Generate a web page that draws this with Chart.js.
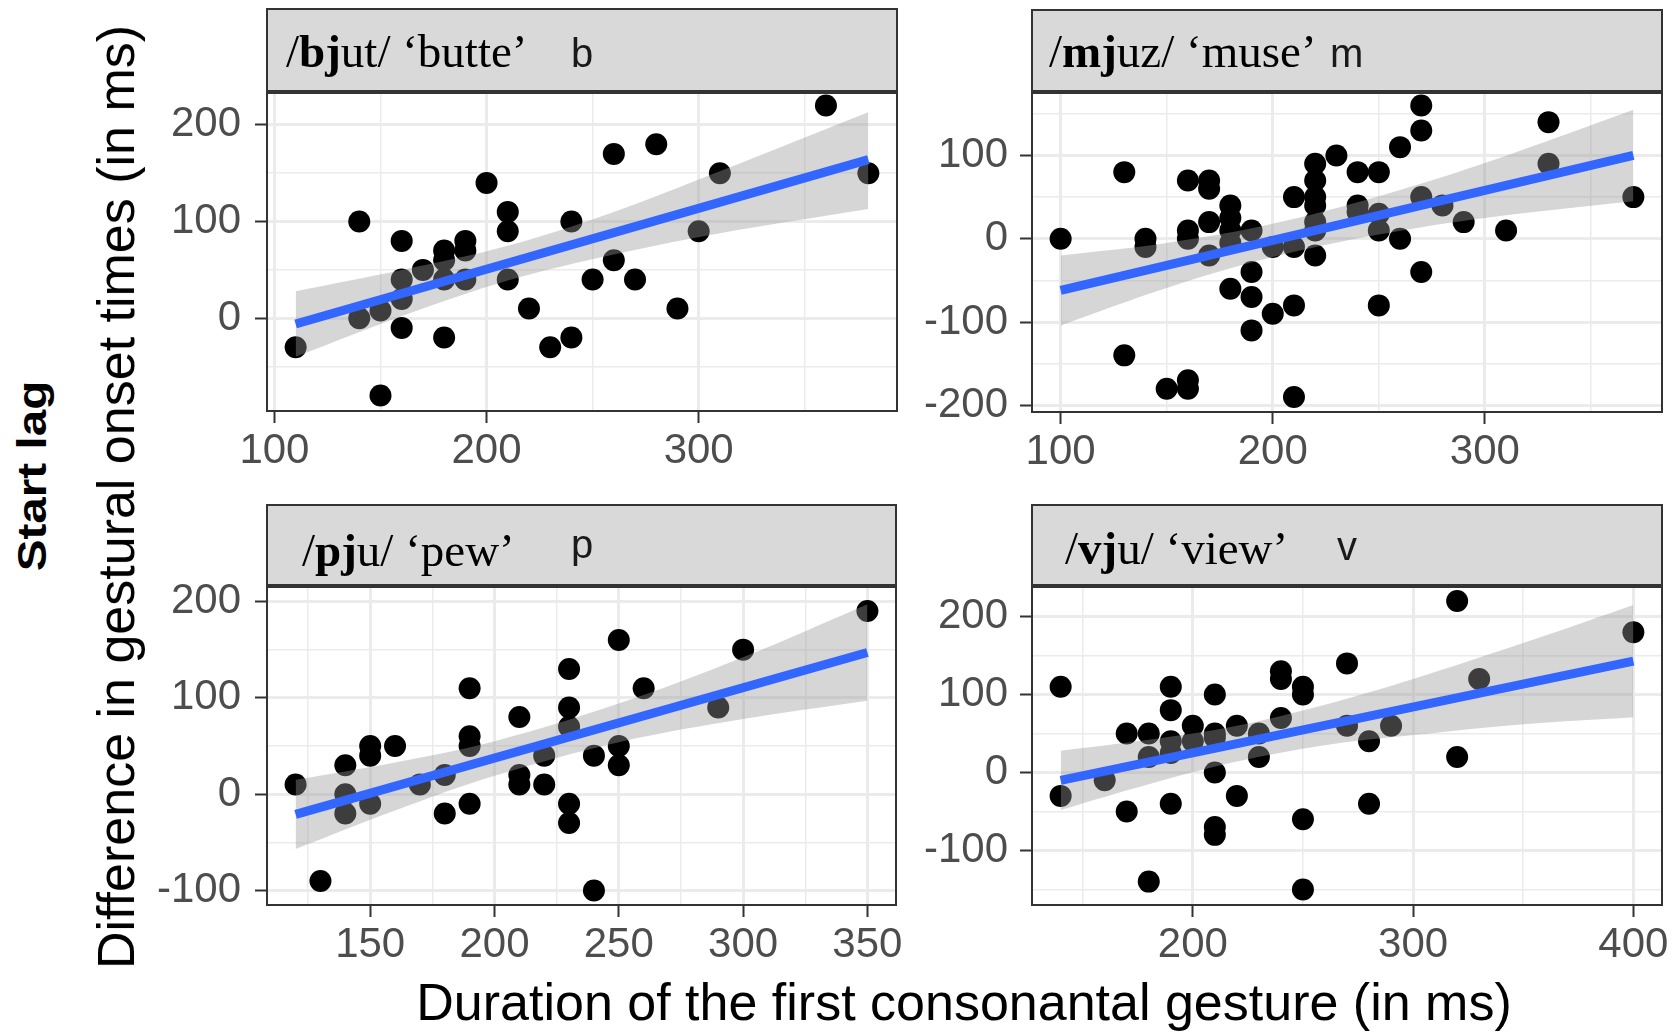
<!DOCTYPE html>
<html lang="en">
<head>
    <meta charset="UTF-8">
    <title>Start lag</title>
    <style>
        body {
            margin: 0;
            width: 1674px;
            height: 1032px;
            position: relative;
            overflow: hidden;
            background: #fff;
            font-family: "Liberation Sans", Arial, sans-serif;
        }
        canvas {
            position: absolute;
        }
        .ytitle {
            position: absolute;
            transform: translate(-50%, -50%) rotate(-90deg);
            line-height: 1;
            white-space: nowrap;
            color: #000;
            z-index: 2;
        }
        #startlag {
            transform: translate(-50%, -50%) rotate(-90deg) scaleX(1.19);
        }
        #xtitle {
            position: absolute;
            left: 964px;
            top: 976px;
            transform: translateX(-50%);
            font-size: 52px;
            line-height: 52px;
            white-space: nowrap;
            color: #000;
            z-index: 2;
        }
    </style>
    <script src="https://cdn.jsdelivr.net/npm/chart.js"></script>
</head>
<body>
    <canvas id="p1"></canvas>
    <canvas id="p2"></canvas>
    <canvas id="p3"></canvas>
    <canvas id="p4"></canvas>
    <div class="ytitle" style="left:116px; top:497px; font-size:52px;">Difference in gestural onset times (in ms)</div>
    <div class="ytitle" id="startlag" style="left:32px; top:476px; font-size:40px; font-weight:bold;">Start lag</div>
    <div id="xtitle">Duration of the first consonantal gesture (in ms)</div>

<script>
// strip labels
const wordOnsets = ['bj', 'mj', 'pj', 'vj'];
const wordRimes = ['ut', 'uz', 'u', 'u'];
const glosses = ['butte', 'muse', 'pew', 'view'];
const letters = ['b', 'm', 'p', 'v'];

// /bjut/ 'butte'
const bjutX = [110, 140, 140, 150, 150, 160, 160, 160, 160, 170, 180, 180, 180, 180, 190, 190, 190, 200, 210, 210, 210, 220, 230, 240, 240, 250, 260, 260, 270, 280, 290, 300, 310, 360, 380];
const bjutY = [-30, 100, 0, 8, -80, 80, 40, 20, -10, 50, 70, 60, 40, -20, 80, 70, 40, 140, 110, 90, 40, 10, -30, 100, -20, 40, 170, 60, 40, 180, 10, 90, 150, 220, 150];
const bjutFitX = [110, 380];
const bjutFitY = [-6, 164];
const bjutBandX = [110, 160, 210, 260, 310, 380];
const bjutBandLow = [-40, 2, 39, 66, 88, 113];
const bjutBandHigh = [28, 50, 75, 110, 152, 213];
const bjutXRange = [96.5, 393.5];
const bjutYRange = [-96, 233];
const bjutXTicks = [100, 200, 300];
const bjutXMinor = [150, 250, 350];
const bjutYTicks = [0, 100, 200];
const bjutYMinor = [-50, 50, 150];

// /mjuz/ 'muse'
const mjuzX = [100, 130, 130, 140, 140, 150, 160, 160, 160, 160, 160, 170, 170, 170, 170, 180, 180, 180, 180, 180, 190, 190, 190, 190, 200, 200, 210, 210, 210, 210, 220, 220, 220, 220, 220, 220, 220, 230, 240, 240, 240, 250, 250, 250, 250, 260, 260, 270, 270, 270, 270, 280, 290, 310, 330, 330, 370];
const mjuzY = [0, 80, -140, 0, -10, -180, 70, 10, 0, -170, -180, 70, 60, 20, -20, 40, 25, 10, -5, -60, 10, -40, -70, -110, -10, -90, 50, -10, -80, -190, 90, 70, 50, 40, 20, 10, -20, 100, 80, 40, 32, 80, 30, 10, -80, 110, 0, 160, 130, 50, -40, 40, 20, 10, 140, 90, 50];
const mjuzFitX = [100, 370];
const mjuzFitY = [-62, 100];
const mjuzBandX = [100, 150, 200, 250, 300, 370];
const mjuzBandLow = [-104, -59, -22, 5, 25, 45];
const mjuzBandHigh = [-20, -5, 18, 51, 91, 155];
const mjuzXRange = [86.5, 383.5];
const mjuzYRange = [-208, 175];
const mjuzXTicks = [100, 200, 300];
const mjuzXMinor = [150, 250, 350];
const mjuzYTicks = [-200, -100, 0, 100];
const mjuzYMinor = [-150, -50, 50, 150];

// /pju/ 'pew'
const pjuX = [120, 130, 140, 140, 140, 150, 150, 150, 160, 170, 180, 180, 190, 190, 190, 190, 210, 210, 210, 220, 220, 230, 230, 230, 230, 230, 240, 240, 250, 250, 250, 260, 290, 300, 350];
const pjuY = [10, -90, 30, 0, -20, 50, 40, -10, 50, 10, 20, -20, 110, 60, 50, -10, 80, 20, 10, 40, 10, 130, 90, 70, -10, -30, 40, -100, 160, 50, 30, 110, 90, 150, 190];
const pjuFitX = [120, 350];
const pjuFitY = [-21, 147];
const pjuBandX = [120, 160, 200, 250, 300, 350];
const pjuBandLow = [-57, -17, 19, 54, 78, 97];
const pjuBandHigh = [15, 33, 55, 94, 142, 197];
const pjuXRange = [108.5, 361.5];
const pjuYRange = [-115, 215];
const pjuXTicks = [150, 200, 250, 300, 350];
const pjuXMinor = [125, 175, 225, 275, 325];
const pjuYTicks = [-100, 0, 100, 200];
const pjuYMinor = [-50, 50, 150];

// /vju/ 'view'
const vjuX = [140, 140, 160, 170, 170, 180, 180, 180, 190, 190, 190, 190, 190, 200, 200, 210, 210, 210, 210, 210, 210, 220, 220, 230, 230, 240, 240, 240, 250, 250, 250, 250, 270, 270, 280, 280, 290, 320, 320, 330, 400];
const vjuY = [110, -30, -10, 50, -50, 50, 20, -140, 110, 80, 40, 25, -40, 60, 40, 100, 50, 45, 0, -70, -80, 60, -30, 50, 20, 130, 120, 70, 110, 100, -60, -150, 140, 60, 40, -40, 60, 220, 20, 120, 180];
const vjuFitX = [140, 400];
const vjuFitY = [-10, 143];
const vjuBandX = [140, 180, 220, 260, 300, 350, 400];
const vjuBandLow = [-48, -15, 14, 35, 48, 62, 71];
const vjuBandHigh = [28, 42, 60, 87, 120, 166, 215];
const vjuXRange = [127, 413];
const vjuYRange = [-170, 238];
const vjuXTicks = [200, 300, 400];
const vjuXMinor = [150, 250, 350];
const vjuYTicks = [-100, 0, 100, 200];
const vjuYMinor = [-150, -50, 50, 150];

// page geometry (absolute px): canvas box, plot box [l, t, r, b], strip top, text anchors
const layout = [
    {id: 'p1', left: 117, top: 0, width: 820, height: 491, plot: [267, 93, 897, 411], stripTop: 8, textX: 286, textY: 67, letterX: 571, letterY: 67, yPad: 14},
    {id: 'p2', left: 882, top: 0, width: 792, height: 492, plot: [1032, 93, 1662, 412], stripTop: 9, textX: 1049, textY: 67, letterX: 1330, letterY: 67, yPad: 12},
    {id: 'p3', left: 117, top: 494, width: 820, height: 538, plot: [267, 587, 896, 905], stripTop: 504, textX: 302, textY: 566, letterX: 571, letterY: 558, yPad: 14},
    {id: 'p4', left: 882, top: 494, width: 792, height: 538, plot: [1032, 587, 1662, 905], stripTop: 504, textX: 1065, textY: 564, letterX: 1337, letterY: 560, yPad: 12}
];

const panelData = [
    {x: bjutX, y: bjutY, fitX: bjutFitX, fitY: bjutFitY, bandX: bjutBandX, low: bjutBandLow, high: bjutBandHigh,
     xRange: bjutXRange, yRange: bjutYRange, xTicks: bjutXTicks, xMinor: bjutXMinor, yTicks: bjutYTicks, yMinor: bjutYMinor},
    {x: mjuzX, y: mjuzY, fitX: mjuzFitX, fitY: mjuzFitY, bandX: mjuzBandX, low: mjuzBandLow, high: mjuzBandHigh,
     xRange: mjuzXRange, yRange: mjuzYRange, xTicks: mjuzXTicks, xMinor: mjuzXMinor, yTicks: mjuzYTicks, yMinor: mjuzYMinor},
    {x: pjuX, y: pjuY, fitX: pjuFitX, fitY: pjuFitY, bandX: pjuBandX, low: pjuBandLow, high: pjuBandHigh,
     xRange: pjuXRange, yRange: pjuYRange, xTicks: pjuXTicks, xMinor: pjuXMinor, yTicks: pjuYTicks, yMinor: pjuYMinor},
    {x: vjuX, y: vjuY, fitX: vjuFitX, fitY: vjuFitY, bandX: vjuBandX, low: vjuBandLow, high: vjuBandHigh,
     xRange: vjuXRange, yRange: vjuYRange, xTicks: vjuXTicks, xMinor: vjuXMinor, yTicks: vjuYTicks, yMinor: vjuYMinor}
];

const toPoints = (xs, ys) => xs.map((v, i) => ({x: v, y: ys[i]}));

// facet strip (grey box + label) and the panel border, ggplot theme_bw style
const stripPlugin = {
    id: 'strip',
    beforeDraw(chart, args, o) {
        const ctx = chart.ctx, a = chart.chartArea;
        ctx.save();
        ctx.fillStyle = '#D9D9D9';
        ctx.strokeStyle = '#333333';
        ctx.lineWidth = 2;
        const top = o.top + 1, bottom = a.top - 2;
        ctx.fillRect(a.left, top, a.right - a.left, bottom - top);
        ctx.strokeRect(a.left, top, a.right - a.left, bottom - top);

        ctx.fillStyle = '#000';
        ctx.textBaseline = 'alphabetic';
        let x = o.textX;
        for (const [txt, bold] of o.parts) {
            ctx.font = (bold ? 'bold ' : '') + '47px "Liberation Serif", "Times New Roman", serif';
            ctx.fillText(txt, x, o.textY);
            x += ctx.measureText(txt).width;
        }
        ctx.font = '40px "Liberation Sans", Arial, sans-serif';
        ctx.fillStyle = '#1A1A1A';
        ctx.fillText(o.letter, o.letterX, o.letterY);
        ctx.restore();
    },
    afterDraw(chart) {
        const ctx = chart.ctx, a = chart.chartArea;
        ctx.save();
        ctx.strokeStyle = '#333333';
        ctx.lineWidth = 2;
        ctx.strokeRect(a.left, a.top, a.right - a.left, a.bottom - a.top);
        ctx.restore();
    }
};

function axisOpts(range, major, minor, dir, size, pad) {
    const isMajor = v => major.includes(v);
    return {
        type: 'linear',
        min: range[0],
        max: range[1],
        afterBuildTicks: axis => {
            axis.ticks = major.concat(minor).sort((a, b) => a - b).map(v => ({value: v}));
        },
        afterFit: axis => {
            if (dir === 'x') axis.height = size;
            else axis.width = size;
        },
        border: {display: false},
        grid: {
            color: '#EBEBEB',
            lineWidth: c => (c.tick && isMajor(c.tick.value)) ? 3 : 1.5,
            tickLength: 12,
            tickWidth: 2,
            tickColor: c => (c.tick && isMajor(c.tick.value)) ? '#333333' : 'rgba(0,0,0,0)'
        },
        ticks: {
            autoSkip: false,
            maxRotation: 0,
            padding: pad,
            color: '#4D4D4D',
            font: {family: '"Liberation Sans", Arial, sans-serif', size: 42},
            callback: v => isMajor(v) ? String(v) : ''
        }
    };
}

function makePanel(L, d, i) {
    const el = document.getElementById(L.id);
    el.width = L.width;
    el.height = L.height;
    el.style.left = L.left + 'px';
    el.style.top = L.top + 'px';
    const [pl, pt, pr, pb] = L.plot;

    new Chart(el, {
        type: 'scatter',
        data: {
            datasets: [
                {
                    data: toPoints(d.x, d.y),
                    backgroundColor: '#000000',
                    borderWidth: 0,
                    pointRadius: 11,
                    order: 3,
                    clip: 0
                },
                {
                    type: 'line',
                    data: toPoints(d.bandX, d.low),
                    borderColor: 'rgba(0,0,0,0)',
                    borderWidth: 1,
                    pointRadius: 0,
                    tension: 0.35,
                    fill: false,
                    order: 2
                },
                {
                    type: 'line',
                    data: toPoints(d.bandX, d.high),
                    borderColor: 'rgba(0,0,0,0)',
                    borderWidth: 1,
                    pointRadius: 0,
                    tension: 0.35,
                    fill: '-1',
                    backgroundColor: 'rgba(153,153,153,0.4)',
                    order: 2
                },
                {
                    type: 'line',
                    data: toPoints(d.fitX, d.fitY),
                    borderColor: '#3366FF',
                    borderWidth: 9,
                    borderCapStyle: 'butt',
                    pointRadius: 0,
                    fill: false,
                    order: 1
                }
            ]
        },
        options: {
            responsive: false,
            maintainAspectRatio: false,
            animation: false,
            devicePixelRatio: 1,
            events: [],
            layout: {
                padding: {top: pt - L.top, right: L.left + L.width - pr, left: 0, bottom: 0}
            },
            plugins: {
                legend: {display: false},
                tooltip: {enabled: false},
                strip: {
                    top: L.stripTop - L.top,
                    textX: L.textX - L.left,
                    textY: L.textY - L.top,
                    letterX: L.letterX - L.left,
                    letterY: L.letterY - L.top,
                    letter: letters[i],
                    parts: [['/', false], [wordOnsets[i], true], [wordRimes[i] + '/ \u2018' + glosses[i] + '\u2019', false]]
                }
            },
            scales: {
                x: axisOpts(d.xRange, d.xTicks, d.xMinor, 'x', L.top + L.height - pb, 3),
                y: axisOpts(d.yRange, d.yTicks, d.yMinor, 'y', pl - L.left, L.yPad)
            }
        },
        plugins: [stripPlugin]
    });
}

layout.forEach((L, i) => makePanel(L, panelData[i], i));
</script>
</body>
</html>
